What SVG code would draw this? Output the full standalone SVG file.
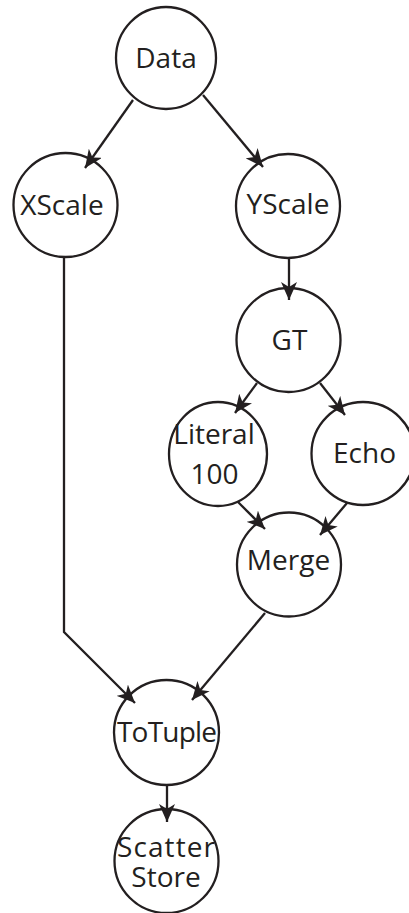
<svg xmlns="http://www.w3.org/2000/svg" width="409" height="913" viewBox="0 0 409 913">
  <style>
    .node { fill: #ffffff; stroke: #231f20; stroke-width: 2.3; }
    .label { font-family: "Open Sans", "Liberation Sans", sans-serif; font-size: 28px; fill: #231f20; text-anchor: middle; }
    .edge { fill: none; stroke: #231f20; stroke-width: 2.3; marker-end: url(#arrow); }
  </style>
  <defs>
    <marker id="arrow" viewBox="0 0 18 16" refX="18" refY="8" markerWidth="18" markerHeight="16" markerUnits="userSpaceOnUse" orient="auto">
      <path d="M0,0 L18,8 L0,16 L5,8 Z" fill="#231f20"/>
    </marker>
  </defs>
  <rect width="409" height="913" fill="#ffffff"/>

  <!-- nodes -->
  <g id="data">
    <ellipse class="node" cx="166" cy="58" rx="50" ry="51"/>
    <text class="label" x="166" y="68">Data</text>
  </g>
  <g id="xscale">
    <circle class="node" cx="65.5" cy="205" r="52"/>
    <text class="label" x="62" y="215">XScale</text>
  </g>
  <g id="yscale">
    <circle class="node" cx="288" cy="206" r="52"/>
    <text class="label" x="288" y="214">YScale</text>
  </g>
  <g id="gt">
    <circle class="node" cx="288.5" cy="340" r="52"/>
    <text class="label" x="289.5" y="350">GT</text>
  </g>
  <g id="literal">
    <ellipse class="node" cx="218" cy="454" rx="49" ry="52"/>
    <text class="label" x="214" y="444">Literal</text>
    <text class="label" x="214.5" y="484">100</text>
  </g>
  <g id="echo">
    <circle class="node" cx="363" cy="453.5" r="51.5"/>
    <text class="label" x="364.5" y="463">Echo</text>
  </g>
  <g id="merge">
    <circle class="node" cx="289" cy="564.5" r="52"/>
    <text class="label" x="288.5" y="570">Merge</text>
  </g>
  <g id="totuple">
    <circle class="node" cx="166.5" cy="732.5" r="52.5"/>
    <text class="label" x="167" y="742" textLength="100">ToTuple</text>
  </g>
  <g id="scatterstore">
    <circle class="node" cx="166.5" cy="861" r="52"/>
    <text class="label" x="166" y="857" textLength="98">Scatter</text>
    <text class="label" x="166" y="887">Store</text>
  </g>

  <!-- connectors -->
  <g id="edges">
    <path class="edge" d="M133,100 L85,168"/>
    <path class="edge" d="M203,95 L263,167"/>
    <path class="edge" d="M64,257 L64,632 L135,703"/>
    <path class="edge" d="M289,258 L289,300"/>
    <path class="edge" d="M257,383 L235,413"/>
    <path class="edge" d="M320,383 L345,415"/>
    <path class="edge" d="M238,502 L265,529"/>
    <path class="edge" d="M347,503 L320,535"/>
    <path class="edge" d="M265,613 L192,700"/>
    <path class="edge" d="M167,785 L167,822"/>
  </g>
</svg>
